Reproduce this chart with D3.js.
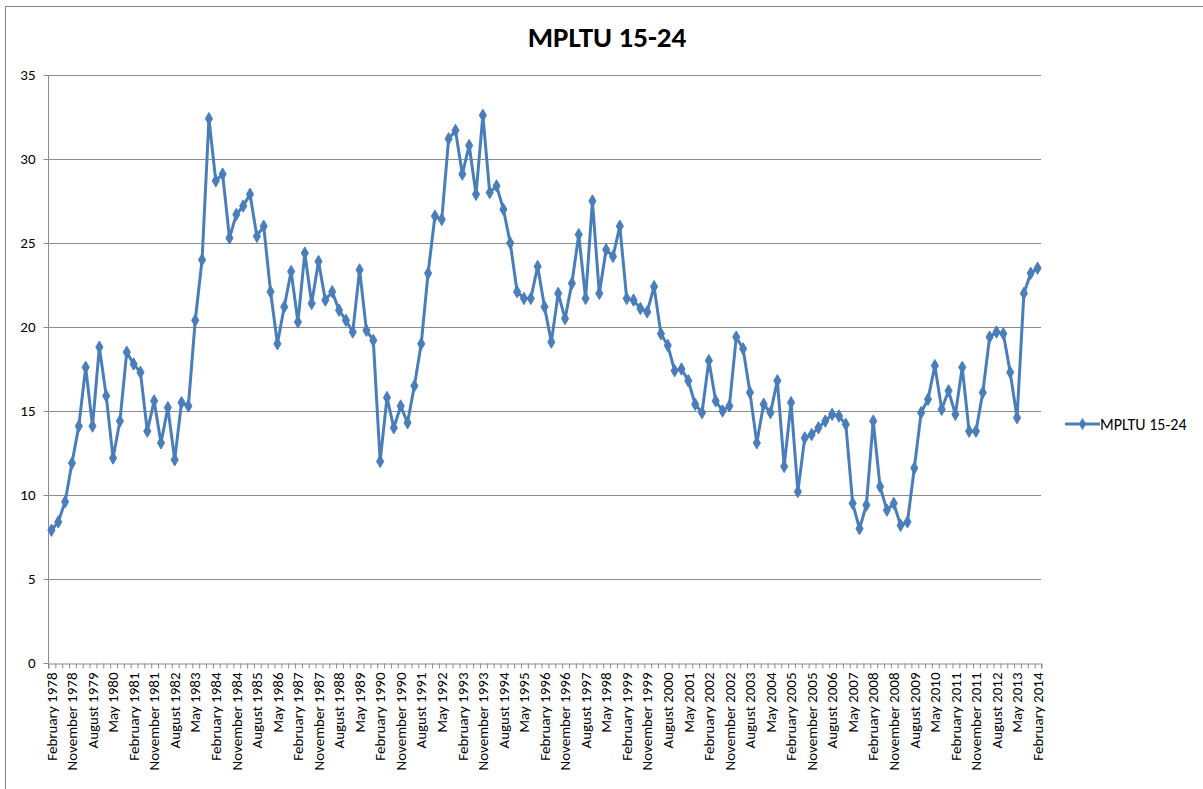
<!DOCTYPE html>
<html>
<head>
<meta charset="utf-8">
<script src="https://cdn.jsdelivr.net/npm/d3@7"></script>
<style>
  body { margin: 0; background: #fff; }
  svg text { font-family: Carlito, Calibri, Lato, "Open Sans", sans-serif; fill: #000; }
</style>
</head>
<body>
<div id="chart"></div>
<script>
// quarterly series, February 1978 .. February 2014
const months = ["February", "May", "August", "November"];
const startYear = 1978;
const seriesName = "MPLTU 15-24";
const values = [
  7.9, 8.4, 9.6, 11.9, 14.1, 17.6, 14.1, 18.8, 15.9, 12.2,
  14.4, 18.5, 17.8, 17.3, 13.8, 15.6, 13.1, 15.2, 12.1, 15.5,
  15.3, 20.4, 24.0, 32.4, 28.7, 29.1, 25.3, 26.7, 27.2, 27.9,
  25.4, 26.0, 22.1, 19.0, 21.2, 23.3, 20.3, 24.4, 21.4, 23.9,
  21.6, 22.1, 21.0, 20.4, 19.7, 23.4, 19.8, 19.2, 12.0, 15.8,
  14.0, 15.3, 14.3, 16.5, 19.0, 23.2, 26.6, 26.4, 31.2, 31.7,
  29.1, 30.8, 27.9, 32.6, 28.0, 28.4, 27.0, 25.0, 22.1, 21.7,
  21.7, 23.6, 21.2, 19.1, 22.0, 20.5, 22.6, 25.5, 21.7, 27.5,
  22.0, 24.6, 24.2, 26.0, 21.7, 21.6, 21.1, 20.9, 22.4, 19.6,
  18.9, 17.4, 17.5, 16.8, 15.4, 14.9, 18.0, 15.6, 15.0, 15.3,
  19.4, 18.7, 16.1, 13.1, 15.4, 14.9, 16.8, 11.7, 15.5, 10.2,
  13.4, 13.6, 14.0, 14.4, 14.8, 14.7, 14.2, 9.5, 8.0, 9.4,
  14.4, 10.5, 9.1, 9.5, 8.2, 8.4, 11.6, 14.9, 15.7, 17.7,
  15.1, 16.2, 14.8, 17.6, 13.8, 13.8, 16.1, 19.4, 19.7, 19.6,
  17.3, 14.6, 22.0, 23.2, 23.5
];
const yTicks = [0, 5, 10, 15, 20, 25, 30, 35];

const categories = values.map((v, i) =>
  months[i % 4] + " " + (startYear + Math.floor(i / 4)));

const width = 1203, height = 789;
const plot = { left: 48, right: 1041, top: 75, bottom: 663 };
const color = "#4a7ebb";
const gridColor = "#8c8c8c";

const svg = d3.select("#chart").append("svg")
  .attr("width", width)
  .attr("height", height);

// outer chart frame
svg.append("rect")
  .attr("x", 5.5).attr("y", 6.5)
  .attr("width", width + 10).attr("height", height + 10)
  .attr("fill", "none")
  .attr("stroke", "#868686");

const x = d3.scaleBand()
  .domain(categories)
  .range([plot.left, plot.right]);

const xEdges = d3.scaleLinear()
  .domain([0, categories.length])
  .range([plot.left, plot.right]);

const y = d3.scaleLinear()
  .domain([0, 35])
  .range([plot.bottom, plot.top]);

// horizontal gridlines
svg.append("g")
  .selectAll("line")
  .data(yTicks.filter(t => t > 0))
  .join("line")
  .attr("x1", plot.left).attr("x2", plot.right)
  .attr("y1", d => Math.round(y(d)) + 0.5)
  .attr("y2", d => Math.round(y(d)) + 0.5)
  .attr("stroke", gridColor);

// y axis
const yAxis = svg.append("g")
  .attr("transform", "translate(" + (plot.left + 0.5) + ",0)")
  .call(d3.axisLeft(y).tickValues(yTicks).tickSize(5).tickPadding(8)
    .tickFormat(d3.format("d")));
yAxis.selectAll("line, path").attr("stroke", gridColor);
yAxis.select(".domain").attr("d", "M0," + plot.top + "V" + plot.bottom);
yAxis.selectAll("text").style("font-size", "15px");

// x axis: small ticks at every category edge
const xTickAxis = svg.append("g")
  .attr("transform", "translate(0," + (plot.bottom + 0.5) + ")")
  .call(d3.axisBottom(xEdges)
    .tickValues(d3.range(categories.length + 1))
    .tickSize(5)
    .tickFormat(""));
xTickAxis.selectAll("line, path").attr("stroke", gridColor);
xTickAxis.selectAll(".tick line").attr("transform", "translate(0.5,0)");

// x axis labels, every third quarter
const xLabelAxis = svg.append("g")
  .attr("transform", "translate(0," + (plot.bottom + 0.5) + ")")
  .call(d3.axisBottom(x)
    .tickValues(categories.filter((c, i) => i % 3 === 0))
    .tickSize(0)
    .tickPadding(0));
xLabelAxis.select(".domain").remove();
xLabelAxis.selectAll("text")
  .style("font-size", "15px")
  .attr("text-anchor", "end")
  .attr("transform", "rotate(-90)")
  .attr("x", -9)
  .attr("y", 0)
  .attr("dy", "0.35em");

// series line
const line = d3.line()
  .x((d, i) => x(categories[i]) + x.bandwidth() / 2)
  .y(d => y(d));

svg.append("path")
  .datum(values)
  .attr("d", line)
  .attr("fill", "none")
  .attr("stroke", color)
  .attr("stroke-width", 3)
  .attr("stroke-linejoin", "round");

const diamond = d3.symbol().type(d3.symbolDiamond).size(44);

svg.append("g")
  .selectAll("path")
  .data(values)
  .join("path")
  .attr("transform", (d, i) =>
    "translate(" + (x(categories[i]) + x.bandwidth() / 2) + "," + y(d) + ")")
  .attr("d", diamond)
  .attr("fill", color)
  .attr("stroke", color)
  .attr("stroke-width", 1);

// title
svg.append("text")
  .attr("x", 607)
  .attr("y", 47)
  .attr("text-anchor", "middle")
  .style("font-size", "29px")
  .style("font-weight", "bold")
  .text(seriesName);

// legend
const legend = svg.append("g").attr("transform", "translate(1065,424)");
legend.append("line")
  .attr("x1", 0).attr("x2", 35)
  .attr("stroke", color).attr("stroke-width", 3);
legend.append("path")
  .attr("transform", "translate(17.5,0)")
  .attr("d", diamond)
  .attr("fill", color);
legend.append("text")
  .attr("x", 35)
  .attr("y", 0)
  .attr("dy", "0.35em")
  .style("font-size", "16px")
  .text(seriesName);
</script>
</body>
</html>
